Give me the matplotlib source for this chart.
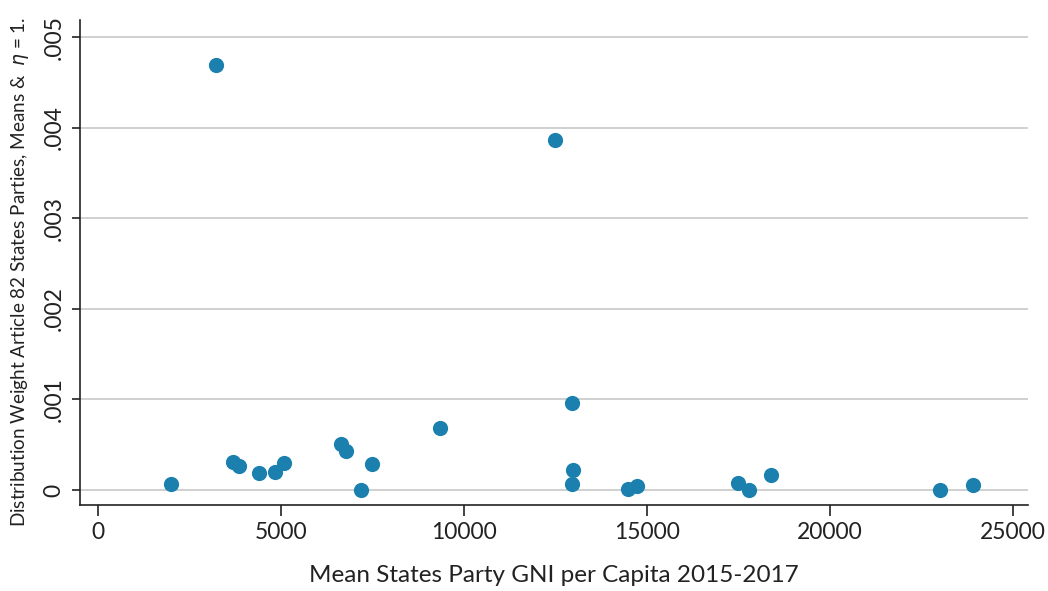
import matplotlib
matplotlib.use("Agg")
import matplotlib.pyplot as plt

gni = [2000, 3224, 3697, 3861, 4408, 4845, 5073, 6630, 6767, 7177, 7495, 9353,
       12486, 12960, 12978, 12951, 14470, 14716, 17495, 17796, 18379, 23005, 23915]
weight = [0.000066, 0.00469, 0.000309, 0.000265, 0.000191, 0.000202, 0.000294,
          0.000511, 0.000427, 0.000004, 0.000287, 0.000688,
          0.003863, 0.000957, 0.000224, 0.00007, 0.000008, 0.000044,
          0.000081, 0.000004, 0.000169, 0.0, 0.000055]

xticks = [0, 5000, 10000, 15000, 20000, 25000]
yticks = [0, 0.001, 0.002, 0.003, 0.004, 0.005]
yticklabels = ["0", ".001", ".002", ".003", ".004", ".005"]

plt.rcParams['font.family'] = ['Lato', 'DejaVu Sans']

fig = plt.figure(figsize=(10.48, 5.91), dpi=100)
ax = fig.add_axes([0.0763, 0.1455, 0.9047, 0.8205])

ax.scatter(gni, weight, s=120, color='#1b80ae', zorder=3, linewidths=0)

ax.set_xlim(-492, 25410)
ax.set_ylim(-0.000166, 0.00519)
ax.set_xticks(xticks)
ax.set_xticklabels([str(t) for t in xticks])
ax.set_yticks(yticks)
ax.set_yticklabels(yticklabels, rotation=90, va='center')

ax.grid(axis='y', color='#c8c8c8', linewidth=1.2)
ax.set_axisbelow(True)
for s in ['top', 'right']:
    ax.spines[s].set_visible(False)
for s in ['left', 'bottom']:
    ax.spines[s].set_color('#222222')
    ax.spines[s].set_linewidth(1.2)

ax.tick_params(axis='x', length=8, width=1.2, colors='#222222', labelsize=16.5, pad=4)
ax.tick_params(axis='y', length=6, width=1.2, colors='#222222', labelsize=16.5, pad=5)

ax.set_xlabel("Mean States Party GNI per Capita 2015-2017", fontsize=17.5, color='#222222', labelpad=16)
ax.set_ylabel(r"Distribution Weight Article 82 States Parties, Means &  $\eta$ = 1.",
              fontsize=13.6, color='#222222', labelpad=6)
ax.yaxis.set_label_coords(-0.052, 0.48)

fig.savefig("out.png", dpi=100)
